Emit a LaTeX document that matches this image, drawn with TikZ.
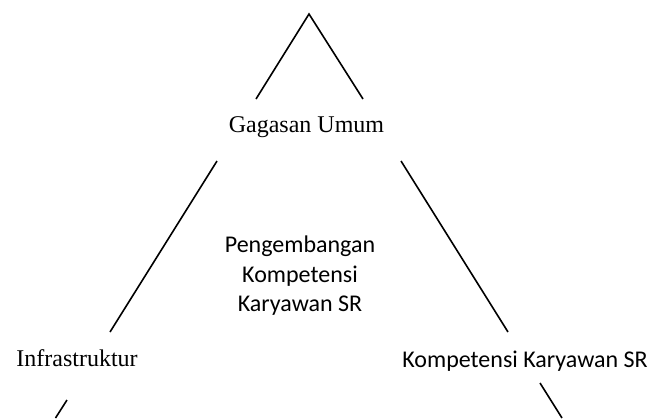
\documentclass[tikz,border=0pt]{standalone}
\usepackage{fontspec}
\setmainfont{Liberation Serif}
\newfontfamily\calib{Carlito}
\begin{document}
\begin{tikzpicture}[x=0.5pt,y=-0.5pt,
  edge/.style={line width=0.8pt,black},
  serlabel/.style={inner sep=0pt,font=\fontsize{12}{14}\selectfont},
  sanslabel/.style={inner sep=0pt,font=\calib\fontsize{12}{14.7}\selectfont}]
\useasboundingbox (0,0) rectangle (662,418);
% coordinates
\coordinate (peak) at (309,14);
\coordinate (tl) at (256,99);
\coordinate (tr) at (363,99);
\coordinate (ml1) at (217,161);
\coordinate (ml2) at (110,332);
\coordinate (mr1) at (401,161);
\coordinate (mr2) at (508,332);
\coordinate (bl1) at (67,400);
\coordinate (bl2) at (55.5,418);
\coordinate (br1) at (540,383);
\coordinate (br2) at (562,418);
% lines
\draw[edge] (tl) -- (peak) -- (tr);
\draw[edge] (ml1) -- (ml2);
\draw[edge] (mr1) -- (mr2);
\draw[edge] (bl1) -- (bl2);
\draw[edge] (br1) -- (br2);
% labels
\node[serlabel,anchor=base] (gagasan) at (306.5,132) {Gagasan Umum};
\node[serlabel,anchor=base west] (infra) at (16,366) {Infrastruktur};
\node[sanslabel,anchor=base west] (komp) at (402,367) {Kompetensi Karyawan SR};
\node[sanslabel,anchor=base] (c1) at (300,252) {Pengembangan};
\node[sanslabel,anchor=base] (c2) at (300,282) {Kompetensi};
\node[sanslabel,anchor=base] (c3) at (300,311) {Karyawan SR};
\end{tikzpicture}
\end{document}
